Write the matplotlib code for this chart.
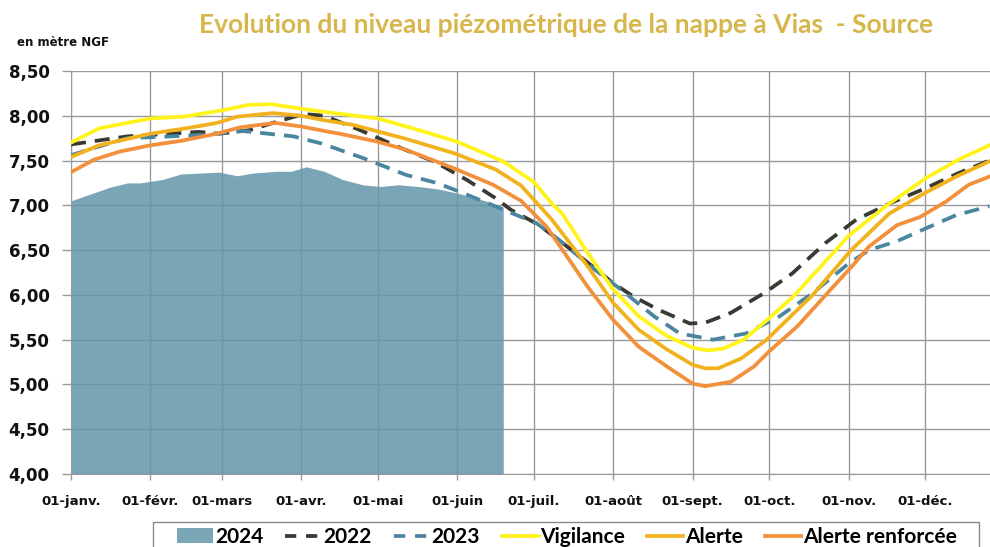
import matplotlib
matplotlib.use("Agg")
import matplotlib.pyplot as plt
from matplotlib.patches import Patch, Rectangle
from matplotlib.lines import Line2D

# ---------------- data (day of year, level in m NGF) ----------------
month_days = [0, 31, 59, 90, 120, 151, 181, 212, 243, 273, 304, 334]
month_labels = ["01-janv.", "01-févr.", "01-mars", "01-avr.", "01-mai", "01-juin",
                "01-juil.", "01-août", "01-sept.", "01-oct.", "01-nov.", "01-déc."]
y_ticks = [4.0, 4.5, 5.0, 5.5, 6.0, 6.5, 7.0, 7.5, 8.0, 8.5]

days_2024 = [0, 7, 15, 22, 27, 36, 43, 50, 58, 65, 71, 80, 86, 92, 99, 106, 114, 121,
             128, 136, 144, 152, 162, 169]
lvl_2024 = [7.05, 7.12, 7.20, 7.25, 7.25, 7.29, 7.35, 7.36, 7.37, 7.33, 7.36, 7.38, 7.38,
            7.43, 7.38, 7.29, 7.23, 7.21, 7.23, 7.21, 7.18, 7.13, 7.05, 6.98]

days_2022 = [0, 22, 39, 50, 58, 70, 80, 91, 99, 113, 129, 142, 155, 166, 172, 183, 199,
             212, 220, 230, 242, 248, 258, 271, 282, 295, 307, 320, 334, 347, 359]
lvl_2022 = [7.68, 7.77, 7.80, 7.82, 7.80, 7.84, 7.93, 8.02, 8.00, 7.84, 7.64, 7.49, 7.28,
            7.08, 6.95, 6.78, 6.43, 6.13, 5.98, 5.83, 5.68, 5.69, 5.80, 6.02, 6.24, 6.58,
            6.84, 7.02, 7.19, 7.36, 7.50]

days_2023 = [0, 9, 22, 39, 54, 67, 77, 87, 98, 114, 131, 143, 153, 165, 176, 182, 191,
             204, 215, 228, 238, 251, 264, 277, 290, 304, 312, 323, 334, 346, 359]
lvl_2023 = [7.56, 7.64, 7.75, 7.77, 7.79, 7.83, 7.80, 7.77, 7.69, 7.53, 7.34, 7.25, 7.14,
            7.00, 6.87, 6.80, 6.61, 6.30, 6.06, 5.76, 5.57, 5.50, 5.57, 5.76, 6.02, 6.35,
            6.50, 6.60, 6.74, 6.89, 6.99]

days_vig = [0, 11, 31, 44, 59, 69, 78, 90, 100, 120, 136, 151, 169, 181, 188, 192, 202,
            212, 222, 233, 243, 249, 255, 263, 273, 283, 299, 304, 319, 334, 347, 359]
lvl_vig = [7.70, 7.86, 7.97, 7.99, 8.06, 8.12, 8.13, 8.08, 8.04, 7.97, 7.84, 7.71, 7.49,
           7.26, 7.02, 6.91, 6.47, 6.06, 5.76, 5.54, 5.41, 5.38, 5.40, 5.50, 5.74, 6.00,
           6.50, 6.66, 7.00, 7.30, 7.51, 7.67]

days_alerte = [0, 11, 31, 45, 57, 65, 79, 90, 99, 110, 130, 150, 166, 176, 188, 202, 212,
               222, 233, 243, 248, 253, 262, 272, 290, 305, 320, 334, 346, 359]
lvl_alerte = [7.54, 7.67, 7.80, 7.86, 7.92, 7.99, 8.03, 8.00, 7.95, 7.90, 7.75, 7.58, 7.40,
              7.22, 6.84, 6.32, 5.91, 5.61, 5.39, 5.22, 5.18, 5.18, 5.29, 5.50, 6.00, 6.50,
              6.91, 7.14, 7.32, 7.49]

days_renf = [0, 9, 19, 31, 43, 57, 66, 74, 80, 90, 101, 105, 120, 131, 150, 165, 176, 186,
             202, 212, 222, 233, 243, 248, 258, 267, 273, 284, 297, 306, 312, 323, 332, 342,
             351, 359]
lvl_renf = [7.37, 7.51, 7.60, 7.67, 7.72, 7.80, 7.87, 7.90, 7.92, 7.88, 7.82, 7.80, 7.71,
            7.62, 7.41, 7.23, 7.05, 6.76, 6.09, 5.72, 5.42, 5.20, 5.01, 4.98, 5.03, 5.20,
            5.37, 5.65, 6.06, 6.34, 6.54, 6.78, 6.87, 7.04, 7.23, 7.32]

# ---------------- styling ----------------
c_fill = "#6396A9"
c_2022 = "#3A3A33"
c_2023 = "#4A879F"
c_vig = "#FFF31A"
c_alerte = "#F2B21E"
c_renf = "#F2903C"
c_grid = "#9A9A9A"
LW = 2.7
DASH = (4.0, 2.4)

fig = plt.figure(figsize=(9.9, 5.47), dpi=100)
ax = fig.add_axes([71 / 990, 1 - 474 / 547, 1 - 71 / 990, (474 - 71) / 547])

ax.fill_between(days_2024, lvl_2024, 4.0, color=c_fill, alpha=0.85, linewidth=0, zorder=2)
ax.plot(days_2022, lvl_2022, color=c_2022, lw=LW, dashes=DASH, zorder=3)
ax.plot(days_2023, lvl_2023, color=c_2023, lw=LW, dashes=DASH, zorder=3)
ax.plot(days_vig, lvl_vig, color=c_vig, lw=LW, zorder=4)
ax.plot(days_alerte, lvl_alerte, color=c_alerte, lw=LW, zorder=4)
ax.plot(days_renf, lvl_renf, color=c_renf, lw=LW, zorder=4)

ax.set_xlim(0, 359.3)
ax.set_ylim(4.0, 8.5)
ax.set_xticks(month_days)
ax.set_xticklabels(month_labels)
ax.set_yticks(y_ticks)
ax.set_yticklabels([f"{v:.2f}".replace(".", ",") for v in y_ticks])

ax.set_axisbelow(True)
ax.grid(True, color=c_grid, lw=1.0)
for s in ["top", "right"]:
    ax.spines[s].set_visible(False)
ax.spines["left"].set_color(c_grid)
ax.spines["bottom"].set_color(c_grid)
ax.tick_params(axis="y", length=6.5, width=1, color=c_grid, pad=9, labelsize=12)
ax.tick_params(axis="x", length=4, width=1, color=c_grid, pad=11, labelsize=9.5)
for lab in ax.get_xticklabels() + ax.get_yticklabels():
    lab.set_fontweight("bold")
    lab.set_color("#111111")

fig.text(566 / 990, 1 - 25 / 547,
         "Evolution du niveau piézométrique de la nappe à Vias  - Source",
         ha="center", va="center", fontsize=19, fontweight="bold", color="#D7B64C",
         family=["Lato", "DejaVu Sans"])
fig.text(17 / 990, 1 - 43 / 547, "en mètre NGF", ha="left", va="center",
         fontsize=8.5, fontweight="bold", color="#111111")

# legend frame (cropped at the bottom of the figure)
fig.patches.append(Rectangle((153 / 990, 1 - 560 / 547), (979 - 153) / 990, 38 / 547,
                             transform=fig.transFigure, facecolor="white",
                             edgecolor="#8A8A8A", lw=1.0, zorder=5))

handles = [
    Patch(facecolor="#7AA6B6", edgecolor="none"),
    Line2D([], [], color=c_2022, lw=LW, dashes=(3.0, 2.6)),
    Line2D([], [], color=c_2023, lw=LW, dashes=(3.0, 2.6)),
    Line2D([], [], color=c_vig, lw=LW),
    Line2D([], [], color=c_alerte, lw=LW),
    Line2D([], [], color=c_renf, lw=LW),
]
labels = ["2024", "2022", "2023", "Vigilance", "Alerte", "Alerte renforcée"]
leg = fig.legend(handles, labels, loc="center left", bbox_to_anchor=(177 / 990, 1 - 537 / 547),
                 ncol=6, frameon=False, borderaxespad=0, borderpad=0,
                 handlelength=1.75, handletextpad=0.08, columnspacing=1.05,
                 prop={"family": ["Lato", "DejaVu Sans"], "weight": "bold", "size": 15})
leg.set_zorder(6)

fig.savefig("out.png", dpi=100)
